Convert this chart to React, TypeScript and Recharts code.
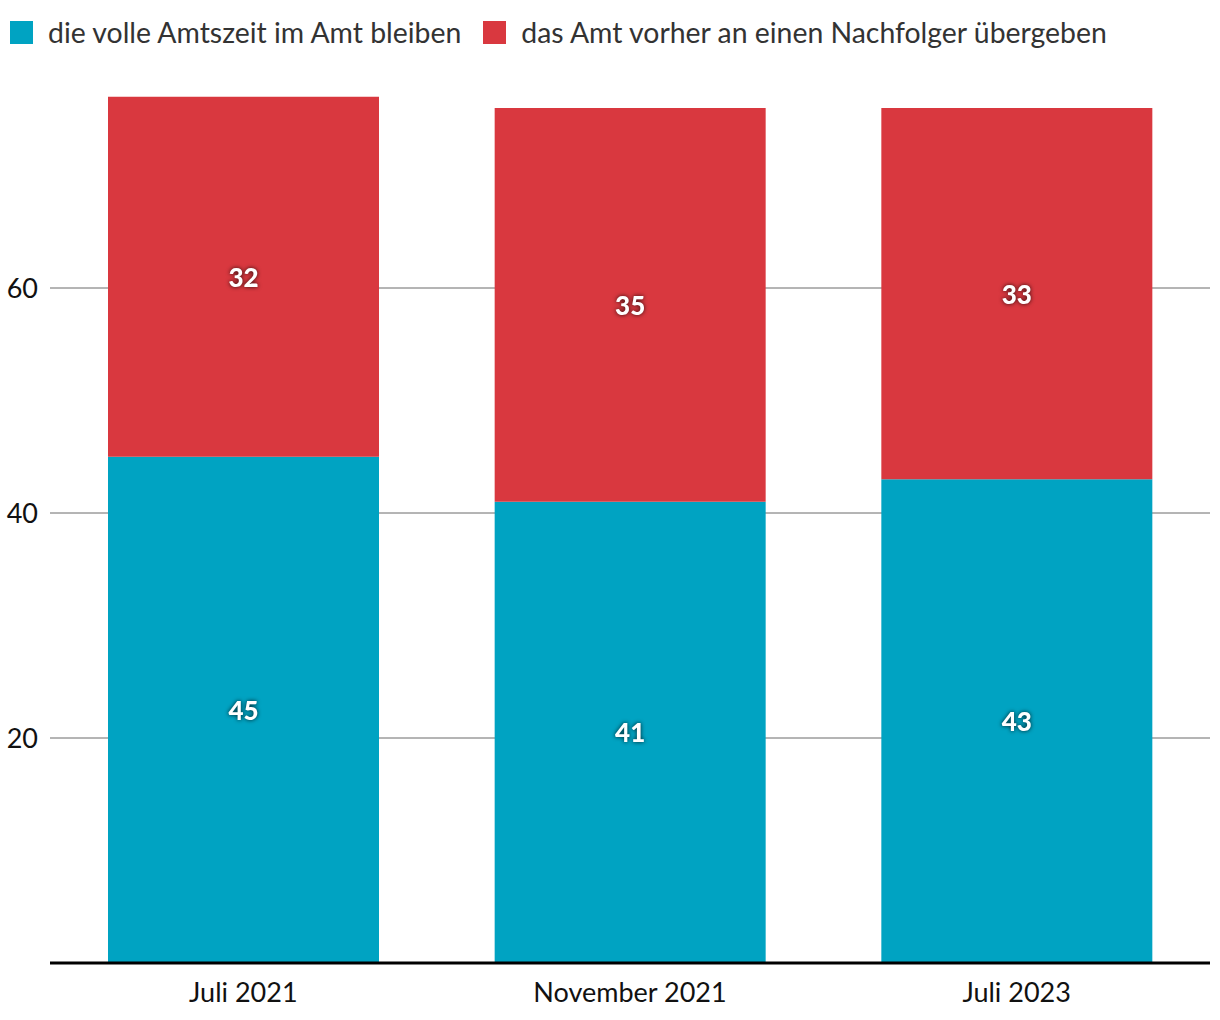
import React from "react";
import {
  BarChart,
  Bar,
  XAxis,
  YAxis,
  CartesianGrid,
  LabelList,
} from "recharts";

const periods = ["Juli 2021", "November 2021", "Juli 2023"];
const fullTerm = [45, 41, 43];
const handOver = [32, 35, 33];
const yTicks = [20, 40, 60];

const seriesNames = [
  "die volle Amtszeit im Amt bleiben",
  "das Amt vorher an einen Nachfolger übergeben",
];
const seriesColors = ["#00a3c2", "#d9383f"];

const data = periods.map((p, i) => ({
  period: p,
  full: fullTerm[i],
  handover: handOver[i],
}));

const FONT = 'Lato, "Open Sans", sans-serif';

// legend sits on top of the chart so it doesn't eat plot height
function TopLegend() {
  return (
    <div
      style={{
        position: "absolute",
        left: 10,
        top: 15,
        display: "flex",
        alignItems: "center",
        fontFamily: FONT,
        fontSize: 28.4,
        color: "#333",
        whiteSpace: "nowrap",
      }}
    >
      {seriesNames.map((name, i) => (
        <div key={name} style={{ display: "flex", alignItems: "center", marginRight: 22 }}>
          <span
            style={{
              display: "inline-block",
              width: 23,
              height: 23,
              background: seriesColors[i],
              marginRight: 15,
            }}
          />
          <span>{name}</span>
        </div>
      ))}
    </div>
  );
}

function ValueLabel(props: any) {
  const { x, y, width, height, value } = props;
  return (
    <text
      x={x + width / 2}
      y={y + height / 2}
      textAnchor="middle"
      dominantBaseline="central"
      fill="#fff"
      style={{ filter: "drop-shadow(0 0 2px rgba(0,0,0,0.8))" }}
      fontFamily={FONT}
      fontWeight={900}
      fontSize={26}
    >
      {value}
    </text>
  );
}

export default function App() {
  return (
    <div style={{ position: "absolute", left: 0, top: 0, width: 1220, height: 1020, background: "#fff" }}>
      <BarChart
        width={1220}
        height={1020}
        data={data}
        margin={{ top: 63, right: 10, bottom: 0, left: 0 }}
        barCategoryGap="15%"
      >
        <CartesianGrid vertical={false} horizontalValues={yTicks} stroke="#6a6a6a" strokeWidth={1} />
        <YAxis
          width={50}
          domain={[0, 80]}
          ticks={yTicks}
          axisLine={false}
          tickLine={false}
          tickMargin={6}
          tick={{ fill: "#111", fontSize: 27, fontFamily: FONT }}
        />
        <XAxis
          dataKey="period"
          height={57}
          axisLine={{ stroke: "#000", strokeWidth: 3 }}
          tickLine={false}
          tickMargin={14}
          tick={{ fill: "#111", fontSize: 27, fontFamily: FONT }}
        />
        <Bar dataKey="full" stackId="a" fill={seriesColors[0]} isAnimationActive={false}>
          <LabelList dataKey="full" content={ValueLabel} />
        </Bar>
        <Bar dataKey="handover" stackId="a" fill={seriesColors[1]} isAnimationActive={false}>
          <LabelList dataKey="handover" content={ValueLabel} />
        </Bar>
      </BarChart>
      <TopLegend />
    </div>
  );
}
